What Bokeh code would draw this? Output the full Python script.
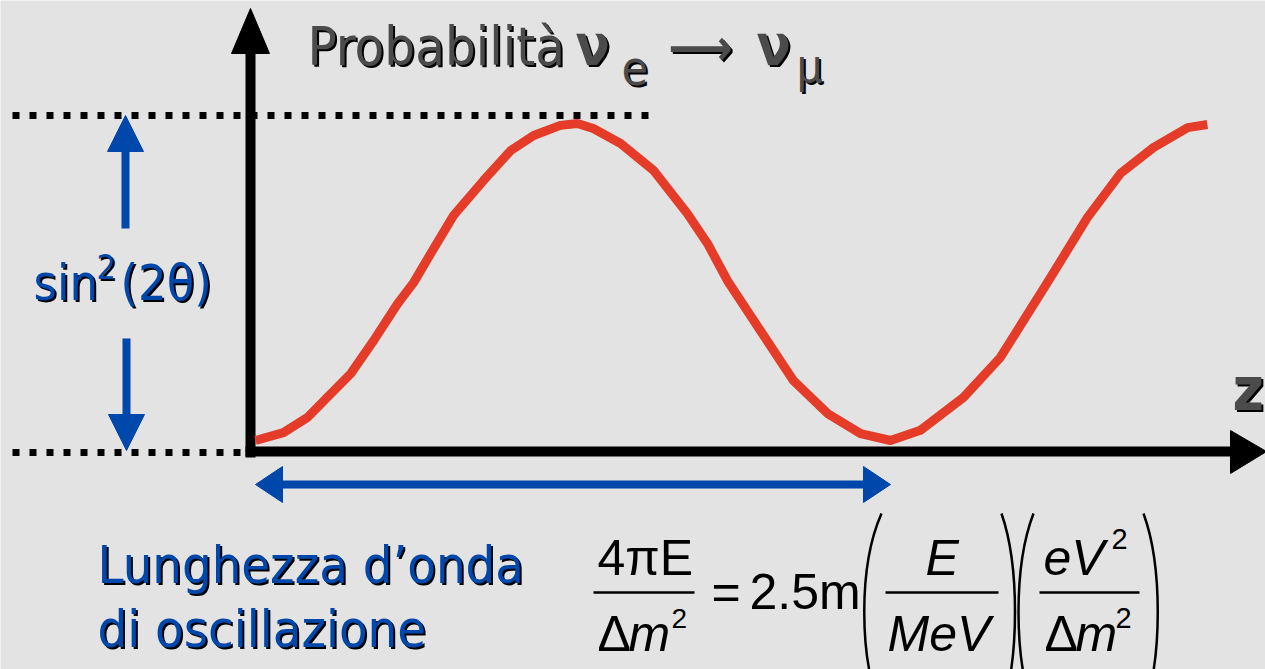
from bokeh.plotting import figure
from bokeh.models import Range1d
from bokeh.core.properties import value
from bokeh.embed import file_html
from bokeh.resources import INLINE

# Oscillation curve: distance in units of the oscillation length,
# probability in units of the amplitude sin^2(2θ)
distance = [0.000, 0.044, 0.082, 0.113, 0.150, 0.186, 0.224, 0.249, 0.276,
            0.312, 0.359, 0.402, 0.438, 0.480, 0.507, 0.532, 0.575, 0.627,
            0.680, 0.712, 0.743, 0.795, 0.847, 0.901, 0.953, 1.000, 1.047,
            1.115, 1.173, 1.247, 1.310, 1.362, 1.414, 1.468, 1.499]
probability = [0.000, 0.025, 0.073, 0.136, 0.211, 0.315, 0.432, 0.498, 0.590,
               0.710, 0.820, 0.915, 0.962, 0.994, 1.000, 0.984, 0.937, 0.852,
               0.716, 0.621, 0.505, 0.347, 0.189, 0.085, 0.022, 0.000, 0.032,
               0.136, 0.262, 0.498, 0.703, 0.842, 0.924, 0.987, 0.997]

title_word = "Probabilità"
nu = "ν"
flavour_from = "e"
flavour_to = "μ"
amplitude_label = ("sin", "2", "(2θ)")
length_label = ["Lunghezza d’onda", "di oscillazione"]
axis_label = "z"

W, H = 1265, 669
BG = "#E3E3E3"
RED = "#E43C28"
BLUE = "#0047AB"
GRAY = "#4B4B4B"
SANS = "DejaVu Sans Condensed"
MATH = "Liberation Sans"

# page layout: the curve origin and the pixel size of one wavelength / unit amplitude
OX, OY = 255, 440
LAM, AMP = 635.0, 317.0
# the text glyph sits its line box a little low; lift by this fraction of the font size
LIFT = 0.36


def X(px):
    return (px - OX) / LAM


def Y(py):
    return (OY - py) / AMP


p = figure(width=W, height=H, x_range=Range1d(X(0), X(W)), y_range=Range1d(Y(H), Y(0)),
           output_backend="svg", toolbar_location=None, min_border=0,
           x_axis_location=None, y_axis_location=None,
           background_fill_color=BG, border_fill_color=BG, outline_line_color=None)
p.grid.visible = False


def seg(x0, y0, x1, y1, color, width, dash="solid"):
    p.line([X(x0), X(x1)], [Y(y0), Y(y1)], line_color=color, line_width=width,
           line_dash=dash, line_cap="butt")


def tri(pts, color):
    p.patch([X(a) for a, _ in pts], [Y(b) for _, b in pts], fill_color=color,
            line_color=color, line_width=1)


def label(px, py, s, size, color, font=SANS, style="normal", shadow=None, align="left"):
    py = py - LIFT * size
    if shadow:
        p.text([X(px + 2)], [Y(py + 2)], text=[s], text_color=shadow,
               text_font=value(font), text_font_size=f"{size}px",
               text_font_style=style, text_baseline="alphabetic", text_align=align)
    p.text([X(px)], [Y(py)], text=[s], text_color=color, text_font=value(font),
           text_font_size=f"{size}px", text_font_style=style,
           text_baseline="alphabetic", text_align=align)


# dotted reference levels for the amplitude
seg(12, 115, 652, 115, "black", 7, "7 10")
seg(12, 452, 246, 452, "black", 7, "7 10")

# axes with arrowheads
seg(250, 457, 250, 50, "black", 10)
tri([(250, 8), (231, 53), (269, 53)], "black")
seg(245, 451, 1232, 451, "black", 10)
tri([(1266, 451), (1230, 430), (1230, 473)], "black")

# oscillation probability
p.line(distance, probability, line_color=RED, line_width=9, line_join="round")

# amplitude arrows
seg(125, 228, 125, 148, BLUE, 8)
tri([(125, 115), (107, 151), (143, 151)], BLUE)
seg(126, 338, 126, 417, BLUE, 8)
tri([(126, 450), (108, 414), (144, 414)], BLUE)

# wavelength double arrow
seg(280, 484, 865, 484, BLUE, 8)
tri([(255, 484), (282, 466), (282, 502)], BLUE)
tri([(890, 484), (863, 466), (863, 502)], BLUE)

# title
label(307, 65, title_word, 54, GRAY, shadow="black")
label(575, 65, nu, 56, GRAY, shadow="black", style="bold")
label(621, 84, flavour_from, 48, GRAY, shadow="black")
label(668, 65, "⟶", 50, GRAY, shadow="black", style="bold")
label(756, 65, nu, 56, GRAY, shadow="black", style="bold")
label(796, 82, flavour_to, 46, GRAY, shadow="black")

# axis name
label(1232, 410, axis_label, 60, GRAY, shadow="black", style="bold")

# amplitude label
label(33, 300, amplitude_label[0], 50, BLUE, shadow="black")
label(96, 278, amplitude_label[1], 34, BLUE, shadow="black")
label(120, 300, amplitude_label[2], 50, BLUE, shadow="black")

# wavelength label
label(97, 583, length_label[0], 52, BLUE, shadow="black")
label(97, 647, length_label[1], 52, BLUE, shadow="black")

# oscillation length formula
label(597, 575, "4πE", 50, "black", MATH)
seg(593, 592, 694, 592, "black", 2.5)
label(597, 651, "Δ", 50, "black", MATH)
label(628, 651, "m", 50, "black", MATH, "italic")
label(671, 628, "2", 28, "black", MATH)
label(711, 609, "=", 50, "black", MATH)
label(749, 609, "2.5m", 50, "black", MATH)

label(925, 575, "E", 50, "black", MATH, "italic")
seg(885, 592, 998, 592, "black", 2.5)
label(887, 651, "MeV", 50, "black", MATH, "italic")

label(1043, 575, "eV", 50, "black", MATH, "italic")
label(1111, 549, "2", 29, "black", MATH)
seg(1039, 592, 1139, 592, "black", 2.5)
label(1044, 651, "Δ", 50, "black", MATH)
label(1075, 651, "m", 50, "black", MATH, "italic")
label(1115, 628, "2", 29, "black", MATH)

# tall brackets around the two unit ratios
for x_end, x_mid in [(881, 858), (1001, 1019), (1033, 1013), (1143, 1162)]:
    p.bezier(x0=[X(x_end)], y0=[Y(513)], x1=[X(x_end)], y1=[Y(710)],
             cx0=[X(x_mid)], cy0=[Y(565)], cx1=[X(x_mid)], cy1=[Y(658)],
             line_color="black", line_width=2.5)

open("out.html", "w").write(file_html(p, INLINE))
